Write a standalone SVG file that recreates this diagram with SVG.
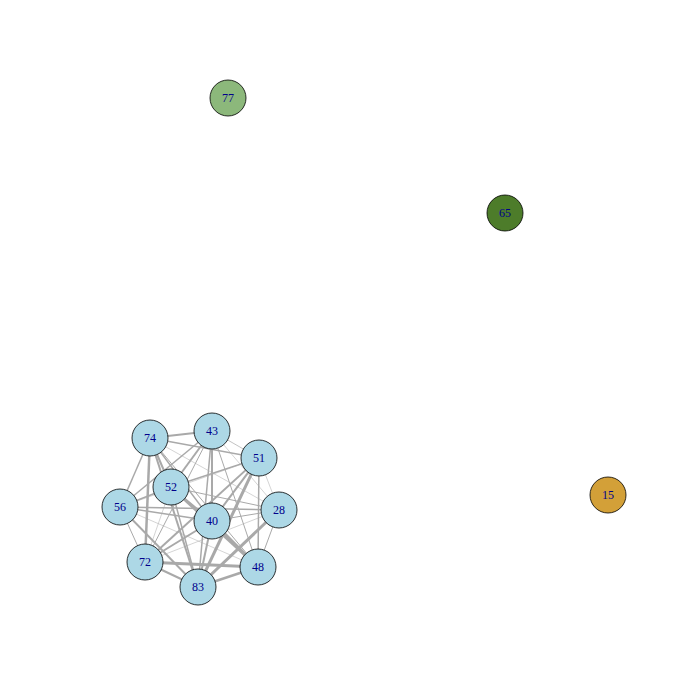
<svg xmlns="http://www.w3.org/2000/svg" width="700" height="700" viewBox="0 0 700 700">
<style>
.e{stroke:#a9a9a9;fill:none}
.n{stroke:#000;stroke-width:0.8}
.c{fill:#add8e6}
text{font-family:"Liberation Serif","DejaVu Serif",serif;font-size:12px;fill:#00008b;text-anchor:middle;dominant-baseline:central}
</style>
<rect width="700" height="700" fill="#fff"/>
<g id="edges">
<line class="e" x1="150" y1="438" x2="212" y2="431" stroke-width="2"/>
<line class="e" x1="150" y1="438" x2="259" y2="458" stroke-width="1.5"/>
<line class="e" x1="150" y1="438" x2="171" y2="487" stroke-width="2"/>
<line class="e" x1="150" y1="438" x2="120" y2="507" stroke-width="1.5"/>
<line class="e" x1="150" y1="438" x2="212" y2="521" stroke-width="1.5"/>
<line class="e" x1="150" y1="438" x2="279" y2="510" stroke-width="0.5"/>
<line class="e" x1="150" y1="438" x2="145" y2="562" stroke-width="2.5"/>
<line class="e" x1="150" y1="438" x2="198" y2="587" stroke-width="2"/>
<line class="e" x1="150" y1="438" x2="258" y2="567" stroke-width="1"/>
<line class="e" x1="212" y1="431" x2="259" y2="458" stroke-width="0.7"/>
<line class="e" x1="212" y1="431" x2="171" y2="487" stroke-width="2"/>
<line class="e" x1="212" y1="431" x2="120" y2="507" stroke-width="1.5"/>
<line class="e" x1="212" y1="431" x2="212" y2="521" stroke-width="2"/>
<line class="e" x1="212" y1="431" x2="279" y2="510" stroke-width="0.5"/>
<line class="e" x1="212" y1="431" x2="145" y2="562" stroke-width="1"/>
<line class="e" x1="212" y1="431" x2="198" y2="587" stroke-width="1.5"/>
<line class="e" x1="212" y1="431" x2="258" y2="567" stroke-width="1"/>
<line class="e" x1="259" y1="458" x2="171" y2="487" stroke-width="1.5"/>
<line class="e" x1="259" y1="458" x2="120" y2="507" stroke-width="0.5"/>
<line class="e" x1="259" y1="458" x2="212" y2="521" stroke-width="2"/>
<line class="e" x1="259" y1="458" x2="279" y2="510" stroke-width="0.5"/>
<line class="e" x1="259" y1="458" x2="145" y2="562" stroke-width="2"/>
<line class="e" x1="259" y1="458" x2="198" y2="587" stroke-width="3"/>
<line class="e" x1="259" y1="458" x2="258" y2="567" stroke-width="1.5"/>
<line class="e" x1="171" y1="487" x2="120" y2="507" stroke-width="1.5"/>
<line class="e" x1="171" y1="487" x2="212" y2="521" stroke-width="1.5"/>
<line class="e" x1="171" y1="487" x2="279" y2="510" stroke-width="1"/>
<line class="e" x1="171" y1="487" x2="145" y2="562" stroke-width="0.5"/>
<line class="e" x1="171" y1="487" x2="198" y2="587" stroke-width="1.5"/>
<line class="e" x1="171" y1="487" x2="258" y2="567" stroke-width="3"/>
<line class="e" x1="120" y1="507" x2="212" y2="521" stroke-width="1.5"/>
<line class="e" x1="120" y1="507" x2="279" y2="510" stroke-width="1.5"/>
<line class="e" x1="120" y1="507" x2="145" y2="562" stroke-width="1"/>
<line class="e" x1="120" y1="507" x2="198" y2="587" stroke-width="2"/>
<line class="e" x1="120" y1="507" x2="258" y2="567" stroke-width="0.5"/>
<line class="e" x1="212" y1="521" x2="279" y2="510" stroke-width="1"/>
<line class="e" x1="212" y1="521" x2="145" y2="562" stroke-width="2"/>
<line class="e" x1="212" y1="521" x2="198" y2="587" stroke-width="2"/>
<line class="e" x1="212" y1="521" x2="258" y2="567" stroke-width="3"/>
<line class="e" x1="279" y1="510" x2="145" y2="562" stroke-width="0.5"/>
<line class="e" x1="279" y1="510" x2="198" y2="587" stroke-width="3"/>
<line class="e" x1="279" y1="510" x2="258" y2="567" stroke-width="1"/>
<line class="e" x1="145" y1="562" x2="198" y2="587" stroke-width="2"/>
<line class="e" x1="145" y1="562" x2="258" y2="567" stroke-width="3"/>
<line class="e" x1="198" y1="587" x2="258" y2="567" stroke-width="2.5"/>
</g>
<g id="n77"><circle class="n" cx="228" cy="98" r="18" fill="#8cb87b"/><text x="228" y="98">77</text></g>
<g id="n65"><circle class="n" cx="505" cy="213" r="18" fill="#4d7c2a"/><text x="505" y="213">65</text></g>
<g id="n15"><circle class="n" cx="608" cy="495" r="18" fill="#d3a038"/><text x="608" y="495">15</text></g>
<g id="n74"><circle class="n c" cx="150" cy="438" r="18"/><text x="150" y="438">74</text></g>
<g id="n43"><circle class="n c" cx="212" cy="431" r="18"/><text x="212" y="431">43</text></g>
<g id="n51"><circle class="n c" cx="259" cy="458" r="18"/><text x="259" y="458">51</text></g>
<g id="n52"><circle class="n c" cx="171" cy="487" r="18"/><text x="171" y="487">52</text></g>
<g id="n56"><circle class="n c" cx="120" cy="507" r="18"/><text x="120" y="507">56</text></g>
<g id="n40"><circle class="n c" cx="212" cy="521" r="18"/><text x="212" y="521">40</text></g>
<g id="n28"><circle class="n c" cx="279" cy="510" r="18"/><text x="279" y="510">28</text></g>
<g id="n72"><circle class="n c" cx="145" cy="562" r="18"/><text x="145" y="562">72</text></g>
<g id="n83"><circle class="n c" cx="198" cy="587" r="18"/><text x="198" y="587">83</text></g>
<g id="n48"><circle class="n c" cx="258" cy="567" r="18"/><text x="258" y="567">48</text></g>
</svg>
